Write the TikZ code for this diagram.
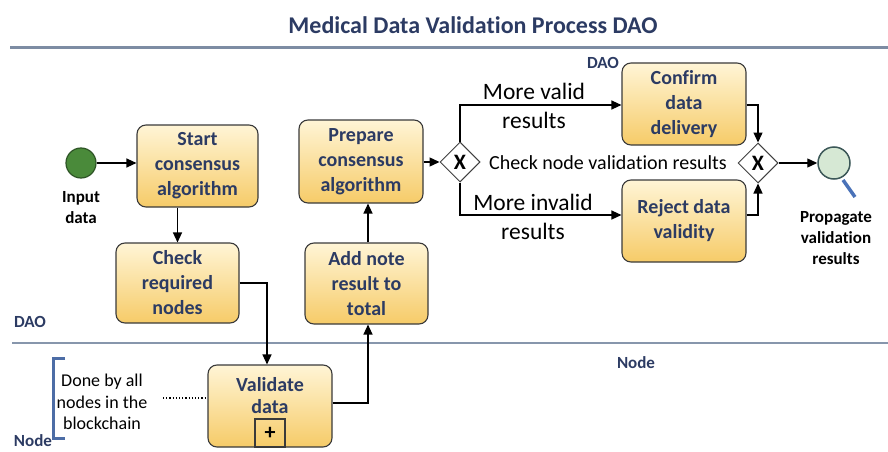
\documentclass[tikz,border=0pt]{standalone}
\usepackage{fontspec}
\setmainfont{Carlito}[Ligatures=NoCommon]
\usetikzlibrary{arrows.meta,shapes.geometric}
\definecolor{navy}{HTML}{2C3B63}
\definecolor{boxtop}{HTML}{FFF5D6}
\definecolor{boxbot}{HTML}{F6CB68}
\definecolor{boxline}{HTML}{3A3A3A}
\definecolor{rulecol}{HTML}{7D8CA3}
\definecolor{lanecol}{HTML}{8796AC}
\definecolor{startfill}{HTML}{4A8A3A}
\definecolor{startline}{HTML}{2E5526}
\definecolor{endfill}{HTML}{D6E8D4}
\definecolor{endline}{HTML}{3C5858}
\definecolor{glassblue}{HTML}{4A72B8}
\definecolor{bracketblue}{HTML}{4D6DA6}
\begin{document}
\begin{tikzpicture}[x=1pt,y=-1pt,
  task/.style={draw=boxline, line width=1.1pt, rounded corners=9pt,
    top color=boxtop, bottom color=boxbot, align=center, inner sep=0pt,
    text=navy, font=\bfseries\fontsize{20}{25}\selectfont},
  gate/.style={diamond, draw=black!75, line width=1pt, fill=white,
    minimum width=40pt, minimum height=40pt, inner sep=0pt,
    font=\bfseries\fontsize{22}{22}\selectfont},
  flow/.style={line width=1.3pt, -{Triangle[length=10pt,width=9pt]}},
  evlabel/.style={align=center, font=\bfseries\fontsize{17}{21}\selectfont},
  branch/.style={align=center, font=\fontsize{23.5}{29}\selectfont},
  lanelabel/.style={text=navy, font=\bfseries\fontsize{17}{20}\selectfont}
]
\useasboundingbox (0,0) rectangle (888,452);

% title and lane separators
\node[text=navy, font=\bfseries\fontsize{24}{28}\selectfont] (title) at (473,25) {Medical Data Validation Process DAO};
\draw[rulecol, line width=3pt] (10,48) -- (888,48);
\draw[lanecol, line width=2pt] (12,343) -- (888,343);

% lane labels
\node[lanelabel] (daoleft) at (30,322) {DAO};
\node[lanelabel] (daotop) at (603,63) {DAO};
\node[lanelabel] (nodemid) at (636,363) {Node};
\node[lanelabel] (nodeleft) at (33,441) {Node};

% events
\node[circle, draw=startline, line width=1.2pt, fill=startfill, minimum size=30pt, inner sep=0pt] (startev) at (81,163) {};
\node[evlabel] (inlabel) at (81,208) {Input\\data};
\node[circle, draw=endline, line width=1.5pt, fill=endfill, minimum size=32pt, inner sep=0pt] (endev) at (834,163) {};
\draw[glassblue, line width=3.5pt] (843,180) -- (855,197);
\node[evlabel] (outlabel) at (836,238) {Propagate\\validation\\results};

% tasks
\node[task, minimum width=121pt, minimum height=82pt] (startcons) at (197.5,166) {Start\\consensus\\algorithm};
\node[task, minimum width=123pt, minimum height=80pt] (check) at (177.5,283) {Check\\required\\nodes};
\node[task, minimum width=124pt, minimum height=82pt] (validate) at (270,406) {};
\node[text=navy, align=center, font=\bfseries\fontsize{20}{22}\selectfont] (vtext) at (270,396) {Validate\\data};
\node[draw=boxline, line width=1.1pt, minimum width=30pt, minimum height=28pt, inner sep=0pt,
  font=\bfseries\fontsize{22}{22}\selectfont] (subproc) at (270,433) {+};
\node[task, minimum width=123pt, minimum height=81pt] (addnote) at (366.5,283.5) {Add note\\result to\\total};
\node[task, minimum width=124pt, minimum height=83pt] (prepare) at (361,161.5) {Prepare\\consensus\\algorithm};
\node[task, minimum width=124pt, minimum height=82pt] (confirm) at (684,104) {Confirm\\data\\delivery};
\node[task, minimum width=124pt, minimum height=82pt] (reject) at (684,221) {Reject data\\validity};

% gateways
\node[gate] (gw1) at (460,162) {X};
\node[gate] (gw2) at (758,163) {X};

% check label and branch labels
\node[font=\fontsize{20}{24}\selectfont] (checklabel) at (608,163) {Check node validation results};
\node[branch] (validlabel) at (534,106) {More valid\\results};
\node[branch] (invalidlabel) at (533,217) {More invalid\\results};

% annotation
\draw[bracketblue, line width=3pt] (65,358) -- (53,358) -- (53,438) -- (65,438);
\node[align=center, font=\fontsize{18}{21.5}\selectfont] (note) at (102,402) {Done by all\\nodes in the\\blockchain};
\coordinate (noteend) at (163,398);
\draw[line width=1.2pt, dotted] (noteend) -- (validate.west |- noteend);

% sequence flows
\draw[flow] (startev.east) -- (startev.east -| startcons.west);
\draw[flow] (startcons.south -| check.north) -- (check.north);
\draw[flow] (check.east) -| ([xshift=-3pt]validate.north);
\draw[flow] ([yshift=3pt]validate.east) -| ([xshift=1.5pt]addnote.south);
\draw[flow] ([xshift=1.5pt]addnote.north) -- ([xshift=1.5pt]addnote.north |- prepare.south);
\draw[flow] (prepare.east |- gw1) -- (gw1.west);
\draw[flow] (gw1.north) |- ([yshift=-1pt]confirm.west);
\draw[flow] (gw1.south) |- ([yshift=6pt]reject.west);
\draw[flow] ([yshift=-1pt]confirm.east) -| (gw2.north);
\draw[flow] ([yshift=6pt]reject.east) -| (gw2.south);
\draw[flow] (gw2.east) -- (endev.west);
\end{tikzpicture}
\end{document}
